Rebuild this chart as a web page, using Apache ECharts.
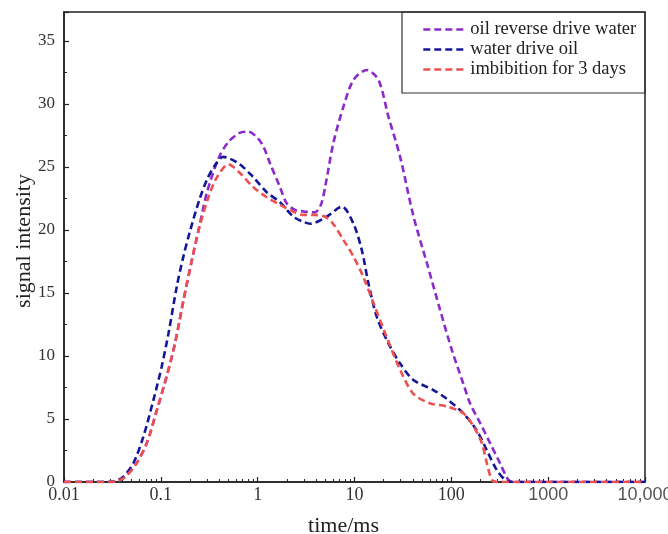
<!DOCTYPE html>
<html>
<head>
<meta charset="utf-8">
<script src="https://cdn.jsdelivr.net/npm/echarts@6/dist/echarts.min.js"></script>
<style>html,body{margin:0;padding:0;background:#fff;}#chart{width:668px;height:534px;}</style>
</head>
<body>
<div id="chart"></div>
<script>
// ---- data ----
const seriesNames = ['oil reverse drive water', 'water drive oil', 'imbibition for 3 days'];

const timePurple = [0.01, 0.02, 0.03, 0.036, 0.043, 0.056, 0.0714, 0.091, 0.115, 0.14, 0.171, 0.209, 0.25, 0.3, 0.4, 0.5, 0.65, 0.8, 1.0, 1.15, 1.34, 1.7, 2.0, 2.43, 3.2, 3.9, 4.5, 5.0, 6.05, 7.69, 9.75, 13.4, 17.7, 22.4, 29.6, 40.6, 55.8, 76.6, 101, 133, 156, 199, 252, 319, 389, 450, 1000, 3000, 10000];
const valPurple  = [0, 0, 0, 0.1, 0.42, 1.48, 3.07, 5.7, 8.4, 11.0, 14.4, 17.6, 20.3, 23.0, 25.8, 27.0, 27.7, 27.8, 27.3, 26.6, 25.3, 23.4, 22.1, 21.6, 21.45, 21.4, 22.0, 23.5, 26.9, 29.8, 31.9, 32.7, 31.9, 29.0, 25.8, 21.1, 17.4, 13.65, 10.5, 7.8, 6.25, 4.66, 3.07, 1.48, 0.16, 0, 0, 0, 0];

const timeBlue = [0.01, 0.02, 0.03, 0.034, 0.041, 0.052, 0.066, 0.0838, 0.102, 0.12, 0.146, 0.171, 0.2, 0.25, 0.3, 0.36, 0.44, 0.63, 0.9, 1.24, 1.7, 2.34, 2.96, 3.5, 5.16, 7.4, 9.75, 11.9, 13.9, 17, 22.4, 29.6, 40.6, 65.3, 89.7, 133, 183, 233, 295, 360, 420, 1000, 3000, 10000];
const valBlue  = [0, 0, 0, 0.05, 0.42, 1.48, 3.6, 6.5, 9.15, 11.8, 15.5, 17.9, 19.9, 22.4, 24.0, 25.1, 25.8, 25.3, 24.2, 23.0, 22.2, 21.05, 20.65, 20.5, 21.05, 21.85, 20.5, 18.4, 15.8, 13.1, 11.0, 9.4, 8.1, 7.3, 6.6, 5.45, 4.1, 2.5, 0.95, 0.16, 0, 0, 0, 0];

const timeRed = [0.01, 0.02, 0.03, 0.036, 0.043, 0.056, 0.0714, 0.091, 0.115, 0.14, 0.171, 0.209, 0.25, 0.31, 0.38, 0.5, 0.66, 0.9, 1.24, 1.7, 2.34, 2.9, 3.76, 4.97, 6.0, 7.7, 9.75, 12.3, 15.7, 21.5, 29.6, 40.6, 60, 89.7, 133, 170, 207, 233, 263, 300, 1000, 3000, 10000];
const valRed  = [0, 0, 0, 0.1, 0.42, 1.48, 3.07, 5.7, 8.4, 11.0, 14.4, 17.6, 20.2, 22.6, 24.2, 25.2, 24.5, 23.4, 22.6, 22.0, 21.45, 21.2, 21.2, 21.05, 20.5, 19.2, 17.9, 16.3, 14.2, 11.5, 8.9, 7.0, 6.25, 6.0, 5.45, 4.4, 3.07, 1.48, 0.16, 0, 0, 0, 0];

const xMajorTicks = [0.01, 0.1, 1, 10, 100, 1000, 10000];
const xTickLabels = ['0.01', '0.1', '1', '10', '100', '1000', '10,000'];
const xMinorTicks = [];
for (let d = 0.01; d < 10000; d *= 10) {
  for (let k = 2; k <= 9; k++) xMinorTicks.push(+(d * k).toPrecision(3));
}

const colors = ['#8B2BCB', '#16169A', '#EE4F4F'];

function pairs(xs, ys) { return xs.map((x, i) => [x, ys[i]]); }

const chart = echarts.init(document.getElementById('chart'), null, {renderer: 'canvas'});
const serif = 'Liberation Serif';
const sans = 'Liberation Sans';

const option = {
  backgroundColor: '#fff',
  animation: false,
  grid: {left: 64, right: 23, top: 12, bottom: 52, containLabel: false, outerBoundsMode: 'none',
         show: true, borderColor: '#222', borderWidth: 1.5, backgroundColor: 'transparent'},
  legend: {
    orient: 'vertical', left: 417, top: 15, itemWidth: 42, itemHeight: 14, itemGap: 1,
    itemStyle: {opacity: 0},
    lineStyle: {width: 2.6},
    textStyle: {fontFamily: serif, fontSize: 18.5, color: '#222'},
    data: seriesNames
  },
  graphic: [{type: 'rect', shape: {x: 402, y: 12, width: 243, height: 81}, style: {fill: 'none', stroke: '#333', lineWidth: 1.2}, z: 100}],
  xAxis: [{
    type: 'log', logBase: 10, min: 0.01, max: 10000,
    name: 'time/ms', nameLocation: 'middle', nameGap: 33,
    nameTextStyle: {fontFamily: serif, fontSize: 22, color: '#222', padding: [0, 22, 0, 0]},
    axisLine: {show: true, lineStyle: {color: '#222', width: 1.5}},
    axisTick: {show: true, inside: true, length: 5, lineStyle: {color: '#222', width: 1.2}},
    splitLine: {show: false},
    axisLabel: {
      margin: 4, color: '#333', fontFamily: serif, fontSize: 18,
      formatter: function (v) {
        const i = xMajorTicks.findIndex(t => Math.abs(Math.log10(t) - Math.log10(v)) < 1e-6);
        if (i < 0) return '';
        return i >= 5 ? '{s|' + xTickLabels[i] + '}' : xTickLabels[i];
      },
      rich: {s: {fontFamily: sans, fontSize: 18, color: '#555'}},
      showMinLabel: true, showMaxLabel: true
    }
  }, {
    type: 'log', logBase: 10, min: 0.01, max: 10000, position: 'bottom',
    axisLine: {show: false},
    axisTick: {show: true, inside: true, length: 3, customValues: xMinorTicks, lineStyle: {color: '#222', width: 1}},
    axisLabel: {show: false},
    splitLine: {show: false}
  }],
  yAxis: {
    type: 'value', min: 0, max: 37.3, interval: 5,
    name: 'signal intensity', nameLocation: 'middle', nameGap: 29, nameRotate: 90, nameMoveOverlap: false,
    nameTextStyle: {fontFamily: serif, fontSize: 22, color: '#222', padding: [0, 0, 0, 12]},
    axisLine: {show: true, lineStyle: {color: '#222', width: 1.5}},
    axisTick: {show: true, inside: true, length: 5, lineStyle: {color: '#222', width: 1.2}},
    minorTick: {show: true, splitNumber: 2, length: 3, lineStyle: {color: '#222', width: 1}},
    splitLine: {show: false},
    axisLabel: {margin: 9, color: '#333', fontFamily: serif, fontSize: 17, showMaxLabel: false}
  },
  series: [
    {name: seriesNames[0], type: 'line', smooth: 0.3, symbol: 'none', data: pairs(timePurple, valPurple), color: colors[0], lineStyle: {type: [7, 4], width: 2.6, color: colors[0]}, z: 3},
    {name: seriesNames[1], type: 'line', smooth: 0.3, symbol: 'none', data: pairs(timeBlue, valBlue), color: colors[1], lineStyle: {type: [7, 4], width: 2.6, color: colors[1]}, z: 4},
    {name: seriesNames[2], type: 'line', smooth: 0.3, symbol: 'none', data: pairs(timeRed, valRed), color: colors[2], lineStyle: {type: [7, 4], width: 2.6, color: colors[2]}, z: 5}
  ]
};
chart.setOption(option);
</script>
</body>
</html>
